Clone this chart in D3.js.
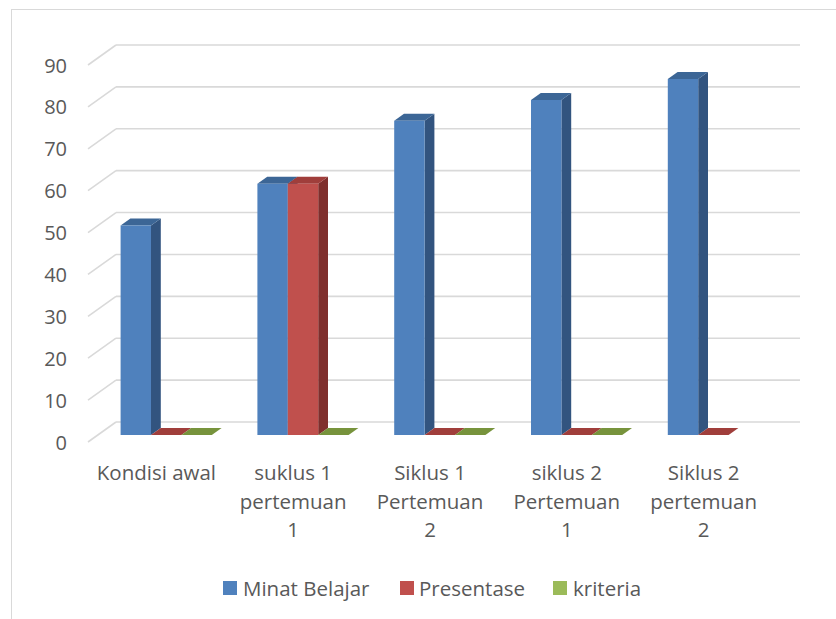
<!DOCTYPE html>
<html>
<head>
<meta charset="utf-8">
<script src="https://cdn.jsdelivr.net/npm/d3@7"></script>
<style>
  html, body { margin: 0; padding: 0; background: #fff; }
  svg { display: block; }
  text { font-family: "Open Sans", "Noto Sans", sans-serif; fill: #595959; }
</style>
</head>
<body>
<svg id="chart" width="836" height="619"></svg>
<script>
// ---- data ----
const categories = [
  ["Kondisi awal"],
  ["suklus 1", "pertemuan", "1"],
  ["Siklus 1", "Pertemuan", "2"],
  ["siklus 2", "Pertemuan", "1"],
  ["Siklus 2", "pertemuan", "2"]
];
const seriesNames = ["Minat Belajar", "Presentase", "kriteria"];
const minatBelajar = [50, 60, 75, 80, 85];
const presentase   = [0, 60, 0, 0, 0];
const kriteria     = [0, 0, 0, 0, null];
const yTicks = [0, 10, 20, 30, 40, 50, 60, 70, 80, 90];

const seriesValues = [minatBelajar, presentase, kriteria];
const colors = [
  { front: "#4F81BD", side: "#32547F", top: "#3C6696" },
  { front: "#C0504D", side: "#7F2F2D", top: "#A03E3B" },
  { front: "#9BBB59", side: "#617A33", top: "#77933C" }
];

// ---- layout ----
const svg = d3.select("#chart");
const catKeys = categories.map((c, i) => i);

const DEPTH = 20;
const SLANT = 1.4;
const barFrontDepth = 13;
const barBackDepth = 6;

const xBack = d3.scaleBand().domain(catKeys).range([116, 800]).paddingInner(0).paddingOuter(0);
const xSeries = d3.scaleBand().domain(d3.range(seriesNames.length))
  .range([xBack.step() / 6, xBack.step() * 5 / 6]).padding(0);
const yBack = d3.scaleLinear().domain([0, 90]).range([422, 45]);

function proj(x, y, d) { return [x - d * SLANT, y + d]; }

// outer border
svg.append("rect").attr("x", 11.5).attr("y", 9.5).attr("width", 900).attr("height", 700)
  .attr("fill", "none").attr("stroke", "#d9d9d9").attr("stroke-width", 1);

// gridlines
const grid = svg.append("g");
yTicks.forEach(t => {
  const y = yBack(t);
  const x0 = xBack.range()[0];
  const x1 = xBack.range()[1];
  grid.append("line").attr("x1", x0).attr("x2", x1).attr("y1", y).attr("y2", y)
    .attr("stroke", "#d9d9d9").attr("stroke-width", 1.6);
  const p = proj(x0, y, DEPTH);
  grid.append("line").attr("x1", p[0]).attr("y1", p[1]).attr("x2", x0).attr("y2", y)
    .attr("stroke", "#d9d9d9").attr("stroke-width", 1.6);
});

// y tick labels
svg.append("g").selectAll("text").data(yTicks).join("text")
  .attr("x", 67).attr("y", d => proj(xBack.range()[0], yBack(d), DEPTH)[1])
  .attr("text-anchor", "end").attr("dominant-baseline", "central")
  .style("font-size", "20px").text(d => d);

// bars
const bars = svg.append("g");
catKeys.forEach(ci => {
  seriesValues.forEach((vals, si) => {
    const v = vals[ci];
    if (v === null || v === undefined) return;
    const xl = xBack(ci) + xSeries(si);
    const xr = xl + xSeries.bandwidth();
    const y0 = yBack(0), y1 = yBack(v);
    const fBL = proj(xl, y0, barFrontDepth), fBR = proj(xr, y0, barFrontDepth);
    const fTL = proj(xl, y1, barFrontDepth), fTR = proj(xr, y1, barFrontDepth);
    const bBR = proj(xr, y0, barBackDepth), bTR = proj(xr, y1, barBackDepth), bTL = proj(xl, y1, barBackDepth);
    const c = colors[si];
    const poly = pts => "M" + pts.map(p => p.join(",")).join("L") + "Z";
    bars.append("path").attr("d", poly([fBR, bBR, bTR, fTR])).attr("fill", c.side);
    bars.append("path").attr("d", poly([fTL, fTR, bTR, bTL])).attr("fill", c.top);
    if (v > 0) bars.append("path").attr("d", poly([fBL, fBR, fTR, fTL])).attr("fill", c.front);
  });
});

// category labels
const catG = svg.append("g");
catKeys.forEach(ci => {
  const cx = proj(xBack(ci) + xBack.bandwidth() / 2, 0, DEPTH)[0];
  const t = catG.append("text").attr("text-anchor", "middle").style("font-size", "20.5px");
  categories[ci].forEach((line, li) => {
    t.append("tspan").attr("x", cx).attr("y", 472 + li * 28.7)
      .attr("dominant-baseline", "central").text(line);
  });
});

// legend
const legendItems = [
  { name: seriesNames[0], sx: 223, tx: 243 },
  { name: seriesNames[1], sx: 400, tx: 419 },
  { name: seriesNames[2], sx: 553, tx: 573 }
];
const lg = svg.append("g");
legendItems.forEach((it, i) => {
  lg.append("rect").attr("x", it.sx).attr("y", 581).attr("width", 14).attr("height", 14)
    .attr("fill", colors[i].front);
  lg.append("text").attr("x", it.tx).attr("y", 588).attr("dominant-baseline", "central")
    .style("font-size", "20.5px").text(it.name);
});
</script>
</body>
</html>
